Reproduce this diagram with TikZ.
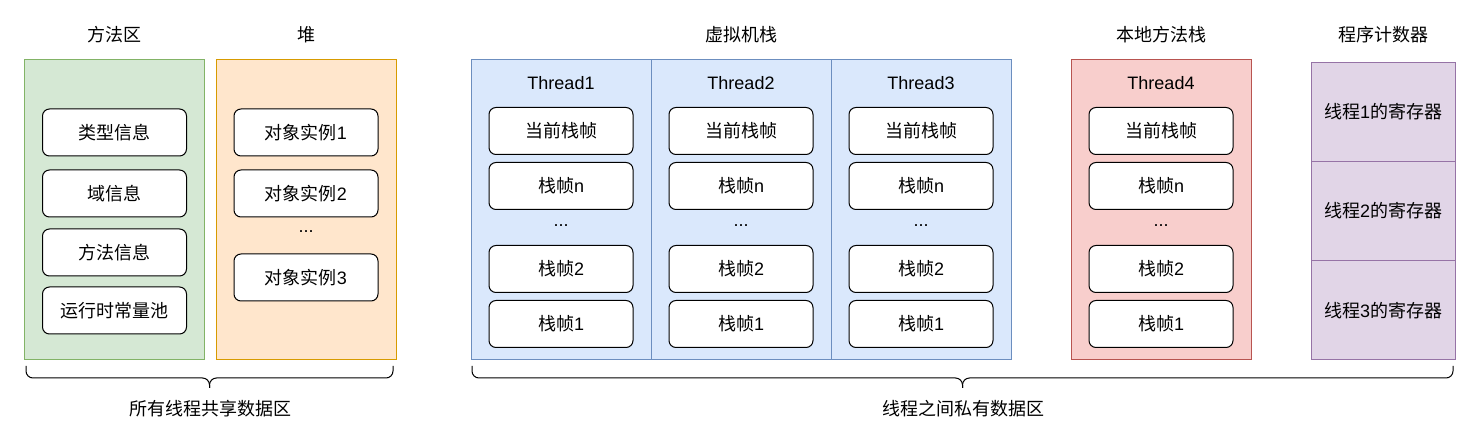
\documentclass[tikz,border=0pt]{standalone}
\usepackage{fontspec}
\setmainfont{Liberation Sans}
\newfontfamily\cjk{Noto Sans CJK SC}
\definecolor{gfill}{HTML}{D5E8D4}\definecolor{gline}{HTML}{82B366}
\definecolor{ofill}{HTML}{FFE6CC}\definecolor{oline}{HTML}{D79B00}
\definecolor{bfill}{HTML}{DAE8FC}\definecolor{bline}{HTML}{6C8EBF}
\definecolor{rfill}{HTML}{F8CECC}\definecolor{rline}{HTML}{B85450}
\definecolor{pfill}{HTML}{E1D5E7}\definecolor{pline}{HTML}{9673A6}
\begin{document}
\begin{tikzpicture}[x=1pt,y=-1pt,
  every node/.style={font=\fontsize{18}{20}\selectfont, inner sep=0pt},
  area/.style={draw, line width=1pt, minimum width=180pt, minimum height=300pt},
  inbox/.style={draw=black, fill=white, line width=1pt, rounded corners=7pt, minimum width=144pt, minimum height=47pt},
  cell/.style={draw=pline, fill=pfill, line width=1pt, minimum width=144pt, minimum height=99.3pt},
  lbl/.style={},
  bracepath/.style={draw=black, line width=1pt, rounded corners=7pt}]
\useasboundingbox (0,0) rectangle (1484,446);
% titles
\node[lbl] (t1) at (114,35) {\cjk 方法区};
\node[lbl] (t2) at (306,35) {\cjk 堆};
\node[lbl] (t3) at (741,35) {\cjk 虚拟机栈};
\node[lbl] (t4) at (1161,35) {\cjk 本地方法栈};
\node[lbl] (t5) at (1383,35) {\cjk 程序计数器};
% method area
\node[area, draw=gline, fill=gfill] (ma) at (114,210) {};
\node[inbox] (ma1) at (114.5,132.5) {\cjk 类型信息};
\node[inbox] (ma2) at (114.5,193.5) {\cjk 域信息};
\node[inbox] (ma3) at (114.5,252.5) {\cjk 方法信息};
\node[inbox] (ma4) at (114.5,310.5) {\cjk 运行时常量池};
% heap
\node[area, draw=oline, fill=ofill] (hp) at (306,210) {};
\node[inbox] (hp1) at (306,132.5) {{\cjk 对象实例}1};
\node[inbox] (hp2) at (306,193.5) {{\cjk 对象实例}2};
\node[lbl] (hpd) at (306,232) {...};
\node[inbox] (hp3) at (306,277.5) {{\cjk 对象实例}3};
% thread stacks
\foreach \i/\cx/\fc/\lc in {1/561/bfill/bline, 2/741/bfill/bline, 3/921/bfill/bline, 4/1161/rfill/rline}{
  \node[area, draw=\lc, fill=\fc] (th\i) at (\cx,210) {};
  \node[lbl] (th\i t) at (\cx,83) {Thread\i};
  \node[inbox] (th\i a) at (\cx,131) {\cjk 当前栈帧};
  \node[inbox] (th\i b) at (\cx,186) {{\cjk 栈帧}n};
  \node[lbl] (th\i c) at (\cx,226) {...};
  \node[inbox] (th\i d) at (\cx,269) {{\cjk 栈帧}2};
  \node[inbox] (th\i e) at (\cx,324) {{\cjk 栈帧}1};
}
% program counter
\node[cell] (pc1) at (1383,111.7) {{\cjk 线程}1{\cjk 的寄存器}};
\node[cell] (pc2) at (1383,211) {{\cjk 线程}2{\cjk 的寄存器}};
\node[cell] (pc3) at (1383,310.3) {{\cjk 线程}3{\cjk 的寄存器}};
% braces
\coordinate (b1l) at (26,366); \coordinate (b1r) at (393,366);
\coordinate (b1m) at (209.5,378); \coordinate (b1t) at (209.5,388);
\draw[bracepath] (b1l) -- (b1l |- b1m) -- (b1m) -- (b1t);
\draw[bracepath] (b1r) -- (b1r |- b1m) -- (b1m) -- (b1t);
\coordinate (b2l) at (472,366); \coordinate (b2r) at (1453,366);
\coordinate (b2m) at (962.5,378); \coordinate (b2t) at (962.5,388);
\draw[bracepath] (b2l) -- (b2l |- b2m) -- (b2m) -- (b2t);
\draw[bracepath] (b2r) -- (b2r |- b2m) -- (b2m) -- (b2t);
\node[lbl] (s1) at (210,409) {\cjk 所有线程共享数据区};
\node[lbl] (s2) at (963,409) {\cjk 线程之间私有数据区};
\end{tikzpicture}
\end{document}
